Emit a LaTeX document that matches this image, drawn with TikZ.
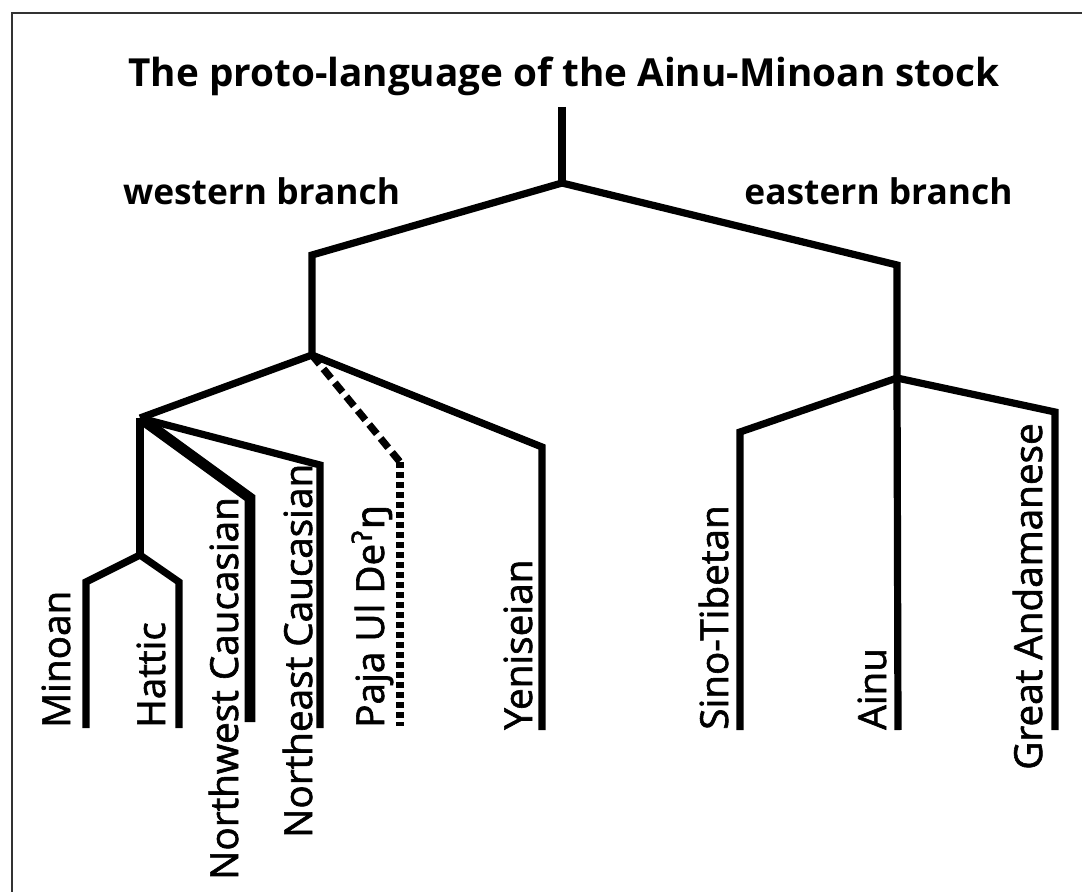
\documentclass[tikz,border=0pt]{standalone}
\usepackage{fontspec}
\setmainfont{Open Sans}
\newfontfamily\langfont[FakeBold=1.6]{Open Sans}
\newfontfamily\ipafont[FakeBold=1.6]{DejaVu Sans}
\begin{document}
\begin{tikzpicture}[x=0.75pt,y=-0.75pt,
  branch/.style={line width=5.4pt, line join=miter, line cap=butt},
  thickbranch/.style={line width=8pt, line join=miter},
  dashbranch/.style={line width=5.4pt, dash pattern=on 9pt off 4.5pt},
  dotbranch/.style={line width=5.4pt, dash pattern=on 4.5pt off 3pt},
  lang/.style={rotate=90, anchor=base west, font=\langfont\fontsize{29}{32}\selectfont, inner sep=0pt},
  title/.style={font=\bfseries\fontsize{29}{32}\selectfont, inner sep=0pt, anchor=base},
  blabel/.style={font=\bfseries\fontsize{26.5}{29}\selectfont, inner sep=0pt, anchor=base}]
\useasboundingbox (0,0) rectangle (1082,892);
\fill[white] (0,0) rectangle (1082,892);
\draw[line width=1.3pt, color=black!80] (12,892) -- (12,13) -- (1082,13);

% titles
\node[title] (tt) at (564,87) {The proto-language of the Ainu-Minoan stock};
\node[blabel] (wb) at (261.5,204) {western branch};
\node[blabel] (eb) at (878.5,204) {eastern branch};

% coordinates
\coordinate (top) at (562,107);
\coordinate (root) at (562,183);
\coordinate (wk) at (312,255);
\coordinate (w) at (312,355);
\coordinate (ek) at (897,265);
\coordinate (e) at (897,378);
\coordinate (c) at (140,418);
\coordinate (mh) at (140,555);
\coordinate (minK) at (86,582);
\coordinate (minE) at (86,728);
\coordinate (hatK) at (179,582);
\coordinate (hatE) at (179,728);
\coordinate (nwK) at (250,498);
\coordinate (nwE) at (250,722);
\coordinate (neK) at (320,465);
\coordinate (neE) at (320,728);
\coordinate (pjK) at (400,462);
\coordinate (pjE) at (400,726);
\coordinate (yeK) at (542,447);
\coordinate (yeE) at (542,730);
\coordinate (stK) at (740,432);
\coordinate (stE) at (740,730);
\coordinate (aiE) at (898,730);
\coordinate (gaK) at (1055,412);
\coordinate (gaE) at (1055,730);

% tree
\draw[branch] (top) -- (root);
\draw[branch] (w) -- (wk) -- (root) -- (ek) -- (e);
\draw[branch] (e) -- (aiE);
\draw[branch] (stE) -- (stK) -- (e) -- (gaK) -- (gaE);
\draw[branch] (c) -- (w) -- (yeK) -- (yeE);
\draw[dashbranch] (w) -- (pjK);
\draw[dotbranch] (pjK) -- (pjE);
\draw[branch] (c) -- (neK) -- (neE);
\draw[thickbranch] (c) -- (nwK) -- (nwE);
\draw[branch] (c) -- (mh);
\draw[branch] (minE) -- (minK) -- (mh) -- (hatK) -- (hatE);

% language labels
\node[lang] (minoan) at (70,728) {Minoan};
\node[lang] (hattic) at (165,728) {Hattic};
\node[lang] (nwc) at (238,880) {Northwest Caucasian};
\node[lang] (nec) at (312,838) {Northeast Caucasian};
\node[lang] (paja) at (384,728) {Paja Ul De\textsuperscript{\ipafont ʔ}{\ipafont ŋ}};
\node[lang] (yen) at (532,730) {Yeniseian};
\node[lang] (sino) at (728,730) {Sino-Tibetan};
\node[lang] (ainu) at (886,730) {Ainu};
\node[lang] (ga) at (1042,770) {Great Andamanese};
\end{tikzpicture}
\end{document}
